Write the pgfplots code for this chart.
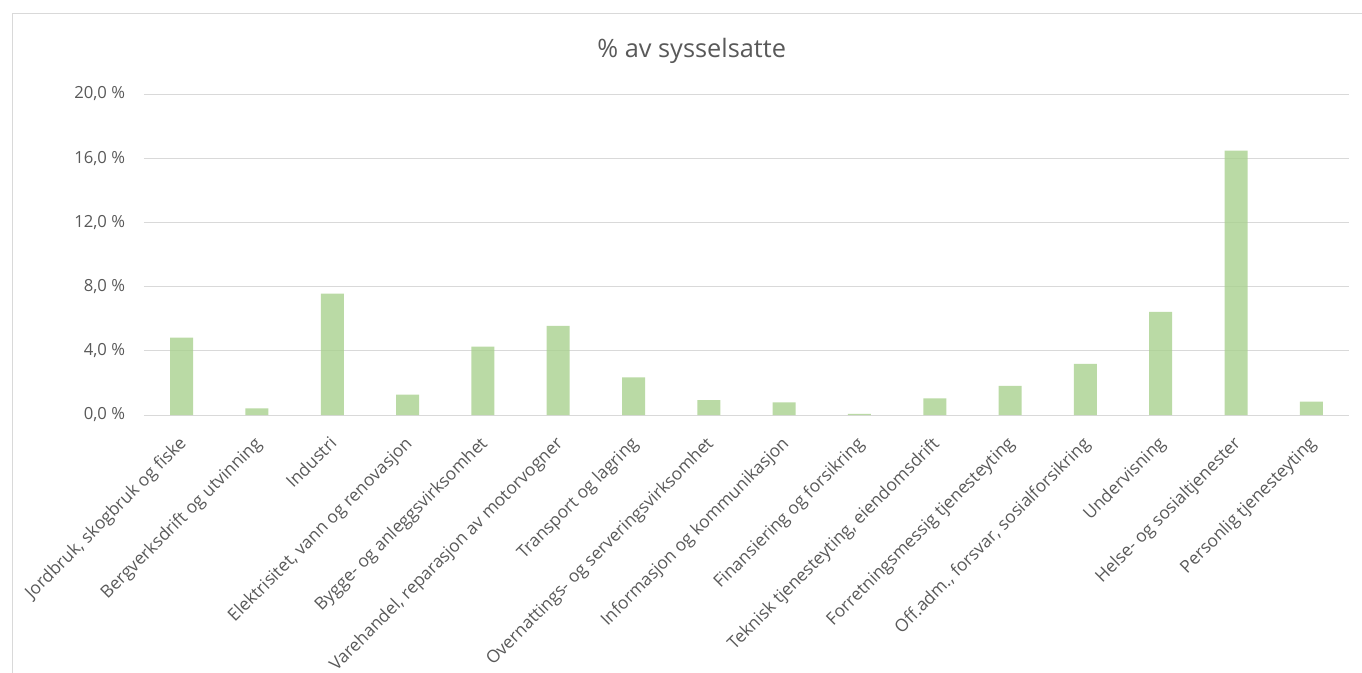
\documentclass[border=0pt]{standalone}
\usepackage{pgfplots}
\pgfplotsset{compat=1.18}
\usepackage{fontspec}
\setmainfont{Open Sans}
\definecolor{bargreen}{HTML}{A9D18E}
\definecolor{gridgray}{HTML}{D9D9D9}
\definecolor{textgray}{HTML}{595959}

% 1 px of the reference = 0.75pt
\begin{document}
\begin{tikzpicture}
  \useasboundingbox (0,0) rectangle (1021.5pt,-504.75pt);
  % chart frame (left and top edges visible)
  \draw[gridgray, line width=0.75pt] (9pt,-510pt) -- (9pt,-10.5pt) -- (1030pt,-10.5pt);
  % title
  \node[anchor=base, font=\fontsize{19}{23}\selectfont, text=textgray]
    at (518.8pt,-43.5pt) {\% av sysselsatte};
  \begin{axis}[
      at={(108pt,-311.25pt)}, anchor=south west,
      scale only axis,
      width=903.75pt, height=240.75pt,
      xmin=-0.5, xmax=15.5,
      ymin=0, ymax=20,
      ytick={0,4,8,12,16,20},
      yticklabels={{0,0 \%},{4,0 \%},{8,0 \%},{12,0 \%},{16,0 \%},{20,0 \%}},
      xtick={0,...,15},
      xticklabels={
        {Jordbruk, skogbruk og fiske},
        {Bergverksdrift og utvinning},
        {Industri},
        {Elektrisitet, vann og renovasjon},
        {Bygge- og anleggsvirksomhet},
        {Varehandel, reparasjon av motorvogner},
        {Transport og lagring},
        {Overnattings- og serveringsvirksomhet},
        {Informasjon og kommunikasjon},
        {Finansiering og forsikring},
        {Teknisk tjenesteyting, eiendomsdrift},
        {Forretningsmessig tjenesteyting},
        {Off.adm., forsvar, sosialforsikring},
        {Undervisning},
        {Helse- og sosialtjenester},
        {Personlig tjenesteyting}},
      axis lines*=left,
      x axis line style={draw=gridgray, line width=0.75pt, -},
      y axis line style={draw=none},
      ymajorgrids,
      grid style={draw=gridgray, line width=0.75pt},
      major tick length=0pt,
      tick style={draw=none},
      ticklabel style={text=textgray},
      yticklabel style={font=\fontsize{12.5}{15}\selectfont, anchor=east, inner sep=0pt, xshift=-14pt},
      xticklabel style={xshift=-3pt, yshift=-15pt, font=\fontsize{13}{16}\selectfont, rotate=45, anchor=north east, inner sep=0pt},
      ybar, bar width=17.25pt,
    ]
    \addplot[fill=bargreen, fill opacity=0.8, draw=none] coordinates {
      (0,4.82) (1,0.42) (2,7.56) (3,1.27) (4,4.26) (5,5.55) (6,2.35) (7,0.93)
      (8,0.79) (9,0.07) (10,1.04) (11,1.81) (12,3.18) (13,6.42) (14,16.47) (15,0.83)
    };
  \end{axis}
\end{tikzpicture}
\end{document}
